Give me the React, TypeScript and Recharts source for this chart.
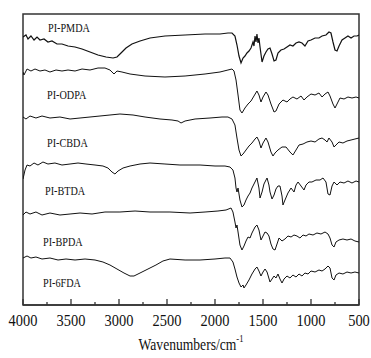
import React from "react";
import { LineChart, Line, XAxis, YAxis, ReferenceArea, ReferenceDot } from "recharts";

// Wavenumber (cm^-1), transmittance (a.u., offset per curve)
const pmda: [number, number][] = [
  [4000, 268], [3969, 270], [3948, 266], [3917, 269], [3885, 265], [3854, 268], [3823, 265], [3781, 266],
  [3740, 263], [3698, 264], [3646, 261], [3594, 261], [3531, 259], [3458, 258], [3385, 256], [3302, 253],
  [3219, 250], [3135, 248], [3062, 247], [3021, 248], [2979, 252], [2927, 257], [2865, 261], [2781, 264],
  [2677, 267], [2521, 269], [2312, 270], [2104, 271], [1948, 271], [1865, 272], [1823, 272], [1792, 269],
  [1771, 260], [1750, 249], [1729, 242], [1708, 247], [1688, 249], [1667, 252], [1646, 254], [1625, 257],
  [1604, 263], [1594, 259], [1583, 269], [1573, 263], [1563, 271], [1552, 262], [1542, 267], [1531, 258],
  [1510, 243], [1490, 249], [1469, 253], [1448, 256], [1427, 257], [1406, 251], [1385, 244], [1365, 245],
  [1344, 252], [1313, 255], [1281, 256], [1250, 258], [1219, 260], [1188, 259], [1156, 262], [1125, 263],
  [1094, 262], [1063, 259], [1031, 264], [1000, 265], [958, 267], [917, 267], [885, 269], [844, 270],
  [813, 273], [792, 272], [771, 263], [750, 255], [729, 254], [708, 259], [677, 265], [646, 267],
  [615, 269], [583, 267], [552, 269], [521, 269], [500, 270],
];

const odpa: [number, number][] = [
  [4000, 233], [3990, 230], [3958, 236], [3917, 234], [3875, 236], [3823, 234], [3771, 235], [3719, 233],
  [3656, 235], [3594, 234], [3531, 235], [3458, 234], [3385, 236], [3302, 235], [3219, 237], [3146, 237],
  [3094, 235], [3052, 231], [3021, 234], [2969, 233], [2885, 231], [2729, 229], [2521, 228], [2312, 229],
  [2104, 231], [1948, 233], [1865, 235], [1823, 236], [1802, 234], [1781, 225], [1760, 210], [1740, 195],
  [1719, 192], [1688, 197], [1656, 201], [1625, 204], [1594, 209], [1563, 214], [1542, 210], [1521, 203],
  [1500, 208], [1469, 213], [1448, 210], [1417, 201], [1385, 193], [1365, 194], [1333, 201], [1292, 205],
  [1250, 203], [1219, 206], [1188, 208], [1146, 206], [1104, 209], [1073, 205], [1042, 208], [1000, 211],
  [958, 210], [917, 212], [885, 208], [854, 211], [823, 213], [802, 209], [771, 201], [750, 197],
  [729, 201], [698, 207], [656, 206], [615, 208], [573, 207], [531, 208], [500, 207],
];

const cbda: [number, number][] = [
  [4000, 188], [3969, 186], [3927, 189], [3865, 187], [3802, 189], [3719, 187], [3615, 188], [3510, 186],
  [3406, 187], [3302, 188], [3198, 189], [3094, 190], [2990, 191], [2854, 190], [2729, 188], [2573, 186],
  [2448, 185], [2385, 184], [2354, 182], [2312, 184], [2208, 186], [2052, 187], [1927, 188], [1865, 188],
  [1823, 186], [1792, 180], [1771, 167], [1750, 155], [1729, 149], [1708, 151], [1677, 155], [1646, 159],
  [1615, 162], [1583, 166], [1563, 168], [1542, 164], [1521, 157], [1500, 162], [1469, 167], [1448, 163],
  [1417, 153], [1396, 149], [1375, 152], [1344, 155], [1302, 158], [1260, 158], [1219, 153], [1188, 150],
  [1156, 155], [1125, 160], [1083, 161], [1042, 163], [1000, 164], [958, 163], [917, 166], [885, 167],
  [854, 165], [833, 163], [813, 167], [781, 163], [760, 158], [740, 160], [708, 163], [667, 162],
  [625, 164], [583, 165], [542, 166], [500, 167],
];

const btda: [number, number][] = [
  [4000, 126], [3979, 135], [3958, 140], [3927, 139], [3885, 142], [3844, 140], [3792, 143], [3740, 141],
  [3667, 142], [3594, 140], [3510, 141], [3427, 142], [3344, 141], [3250, 140], [3167, 139], [3115, 137],
  [3073, 133], [3042, 131], [3010, 134], [2958, 137], [2885, 139], [2781, 141], [2677, 142], [2521, 141],
  [2365, 140], [2156, 140], [2000, 139], [1896, 139], [1844, 138], [1813, 135], [1792, 127], [1781, 117],
  [1771, 113], [1760, 117], [1740, 105], [1719, 98], [1698, 100], [1677, 105], [1656, 109], [1635, 112],
  [1615, 117], [1594, 121], [1573, 125], [1563, 127], [1542, 117], [1531, 107], [1510, 113], [1490, 121],
  [1469, 125], [1458, 127], [1438, 120], [1427, 113], [1406, 106], [1385, 110], [1365, 116], [1344, 119],
  [1323, 119], [1302, 109], [1292, 100], [1271, 105], [1240, 112], [1208, 117], [1177, 113], [1156, 120],
  [1135, 123], [1104, 119], [1073, 115], [1052, 120], [1021, 123], [990, 123], [948, 125], [906, 125],
  [875, 127], [844, 123], [823, 111], [802, 110], [781, 119], [760, 123], [729, 120], [698, 123],
  [656, 122], [615, 124], [573, 122], [531, 124], [500, 123],
];

const bpda: [number, number][] = [
  [4000, 90], [3969, 93], [3927, 91], [3865, 93], [3802, 90], [3719, 92], [3615, 90], [3510, 91],
  [3406, 92], [3281, 91], [3146, 93], [2990, 93], [2833, 94], [2677, 93], [2469, 93], [2260, 92],
  [2104, 93], [1969, 94], [1885, 95], [1833, 97], [1813, 93], [1792, 83], [1781, 77], [1771, 80],
  [1760, 73], [1740, 60], [1719, 55], [1698, 59], [1677, 64], [1656, 68], [1635, 67], [1615, 72],
  [1583, 78], [1563, 80], [1542, 75], [1521, 65], [1500, 69], [1479, 73], [1458, 72], [1438, 69],
  [1417, 61], [1396, 56], [1375, 55], [1354, 61], [1333, 67], [1302, 64], [1271, 66], [1240, 69],
  [1208, 68], [1177, 70], [1146, 69], [1115, 67], [1083, 70], [1052, 69], [1021, 71], [979, 70],
  [938, 72], [896, 71], [854, 73], [823, 71], [802, 67], [781, 60], [760, 58], [740, 63],
  [708, 65], [667, 66], [625, 65], [583, 66], [542, 64], [500, 63],
];

const fda6: [number, number][] = [
  [4000, 47], [3958, 49], [3917, 47], [3865, 48], [3802, 46], [3719, 47], [3635, 45], [3552, 46],
  [3458, 45], [3354, 46], [3250, 45], [3167, 43], [3094, 40], [3021, 36], [2948, 32], [2885, 29],
  [2844, 29], [2781, 32], [2698, 36], [2615, 40], [2542, 44], [2469, 46], [2312, 45], [2156, 45],
  [2000, 46], [1896, 47], [1844, 47], [1813, 43], [1792, 36], [1771, 28], [1750, 22], [1729, 18],
  [1708, 20], [1698, 17], [1677, 20], [1646, 25], [1615, 31], [1583, 36], [1563, 38], [1542, 34],
  [1521, 29], [1500, 33], [1479, 36], [1458, 33], [1427, 23], [1406, 26], [1385, 29], [1365, 27],
  [1344, 31], [1323, 26], [1302, 22], [1281, 26], [1250, 29], [1219, 27], [1188, 30], [1156, 28],
  [1125, 31], [1094, 29], [1063, 32], [1031, 31], [1000, 34], [958, 33], [917, 35], [885, 34],
  [854, 36], [823, 39], [802, 37], [781, 27], [760, 25], [740, 30], [708, 32], [667, 31],
  [625, 33], [583, 32], [542, 33], [500, 32],
];

const seriesNames = ["PI-PMDA", "PI-ODPA", "PI-CBDA", "PI-BTDA", "PI-BPDA", "PI-6FDA"];
const seriesData = [pmda, odpa, cbda, btda, bpda, fda6];
// label anchor positions (wavenumber, transmittance)
const labelWave = [3740, 3750, 3750, 3771, 3792, 3792];
const labelValue = [273, 206, 158, 110, 59, 18];

const xTicks = [4000, 3750, 3500, 3250, 3000, 2750, 2500, 2250, 2000, 1750, 1500, 1250, 1000, 750, 500];
const xDomain: [number, number] = [500, 4000];
const yDomain: [number, number] = [0, 291];

const FONT = "Liberation Serif, Times New Roman, serif";

const XTick = (props: any) => {
  const { x, y, payload } = props;
  const v = payload.value as number;
  const major = v % 500 === 0;
  return (
    <g>
      <line x1={x} x2={x} y1={y} y2={y - (major ? 6 : 3)} stroke="#333" strokeWidth={1.3} />
      {major && (
        <text
          transform={`translate(${x},${y + 21}) scale(0.9,1)`}
          textAnchor="middle"
          fontSize={16}
          fontFamily={FONT}
          fill="#111"
        >
          {v}
        </text>
      )}
    </g>
  );
};

const XTitle = (props: any) => {
  const vb = props.viewBox;
  const cx = vb.x + vb.width / 2;
  const y = vb.y + 45;
  return (
    <text
      transform={`translate(${cx},${y}) scale(0.85,1)`}
      textAnchor="middle"
      fontSize={16}
      fontFamily={FONT}
      fill="#111"
    >
      Wavenumbers/cm
      <tspan dy={-8} fontSize={10}>-1</tspan>
    </text>
  );
};

const makeSeriesLabel = (name: string) => (props: any) => {
  const vb = props.viewBox;
  return (
    <text
      transform={`translate(${vb.x},${vb.y}) scale(0.85,1)`}
      fontSize={12}
      fontFamily={FONT}
      fill="#111"
    >
      {name}
    </text>
  );
};

export default function App() {
  return (
    <div style={{ position: "absolute", left: 0, top: 0, width: 371, height: 358, background: "#fff" }}>
      <LineChart
        width={371}
        height={358}
        margin={{ top: 14, right: 12, bottom: 0, left: 23 }}
      >
        <XAxis
          type="number"
          dataKey="w"
          domain={xDomain}
          reversed
          allowDataOverflow
          ticks={xTicks}
          interval={0}
          tickSize={0}
          tickMargin={0}
          tickLine={false}
          tick={<XTick />}
          height={53}
          axisLine={{ stroke: "#333", strokeWidth: 1.5 }}
          label={{ content: <XTitle /> }}
        />
        <YAxis type="number" dataKey="t" domain={yDomain} hide allowDataOverflow />
        <ReferenceArea
          x1={4000}
          x2={500}
          y1={0}
          y2={291}
          fill="none"
          stroke="#333"
          strokeWidth={1.5}
          ifOverflow="visible"
        />
        {seriesData.map((d, i) => (
          <Line
            key={seriesNames[i]}
            data={d.map(([w, t]) => ({ w, t }))}
            dataKey="t"
            type="linear"
            stroke="#111"
            strokeWidth={i === 0 ? 1.2 : 1}
            dot={false}
            isAnimationActive={false}
          />
        ))}
        {seriesNames.map((n, i) => (
          <ReferenceDot
            key={"lbl" + n}
            x={labelWave[i]}
            y={labelValue[i]}
            r={0}
            fill="none"
            stroke="none"
            label={{ content: makeSeriesLabel(n) }}
          />
        ))}
      </LineChart>
    </div>
  );
}
